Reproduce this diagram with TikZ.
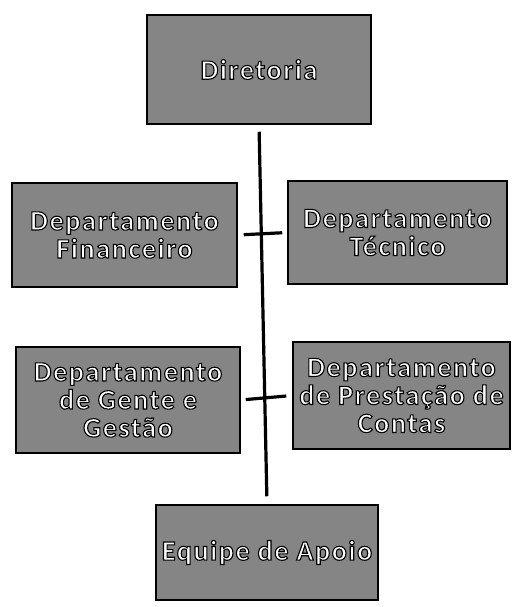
\documentclass[tikz,border=0pt]{standalone}
\usepackage{fontspec}
\usepackage{xcolor}
\newfontfamily\caixafont[LetterSpace=6]{Carlito Bold}
% white letters with a black outline (text render mode 2)
\newcommand{\ctx}[1]{\special{pdf:literal direct 2 Tr 1.1 w 0 0 0 RG}#1\special{pdf:literal direct 0 Tr}}

\begin{document}
\begin{tikzpicture}[
        x=1pt, y=-1pt,
        caixa/.style={
            draw=black,
            line width=1.5pt, % border of the boxes
            fill=black!48,
            text=white,
            align=center,
            inner sep=0pt,
            font=\caixafont\fontsize{28}{28}\selectfont
        },
        linha/.style={
            draw=black,
            line width=3.2pt
        }
    ]
\useasboundingbox (0,0) rectangle (511,607);

% Boxes of the chart
\node[caixa, minimum width=224pt, minimum height=109pt] (dir) at (259,69.5) {\ctx{Diretoria}};
\node[caixa, minimum width=225pt, minimum height=104pt] (fin) at (124.5,235) {\ctx{Departamento}\\\ctx{Financeiro}};
\node[caixa, minimum width=219pt, minimum height=103pt] (tec) at (397.5,232.5) {\ctx{Departamento}\\\ctx{Técnico}};
\node[caixa, minimum width=224pt, minimum height=106pt] (gen) at (128,400) {\ctx{Departamento}\\\ctx{de Gente e}\\\ctx{Gestão}};
\node[caixa, minimum width=217pt, minimum height=107pt] (pre) at (401.5,395.5) {\ctx{Departamento}\\\ctx{de Prestação de}\\\ctx{Contas}};
\node[caixa, minimum width=222pt, minimum height=95pt] (apo) at (267,552.5) {\ctx{Equipe de Apoio}};

% Trunk and the two cross bars
\draw[linha, shorten <=7pt, shorten >=8pt] (dir.south) -- (apo.north);
\draw[linha, shorten <=6pt, shorten >=5pt] (fin.east) -- (tec.west);
\draw[linha, shorten <=5pt, shorten >=6pt] (gen.east) -- (pre.west);

\end{tikzpicture}
\end{document}
